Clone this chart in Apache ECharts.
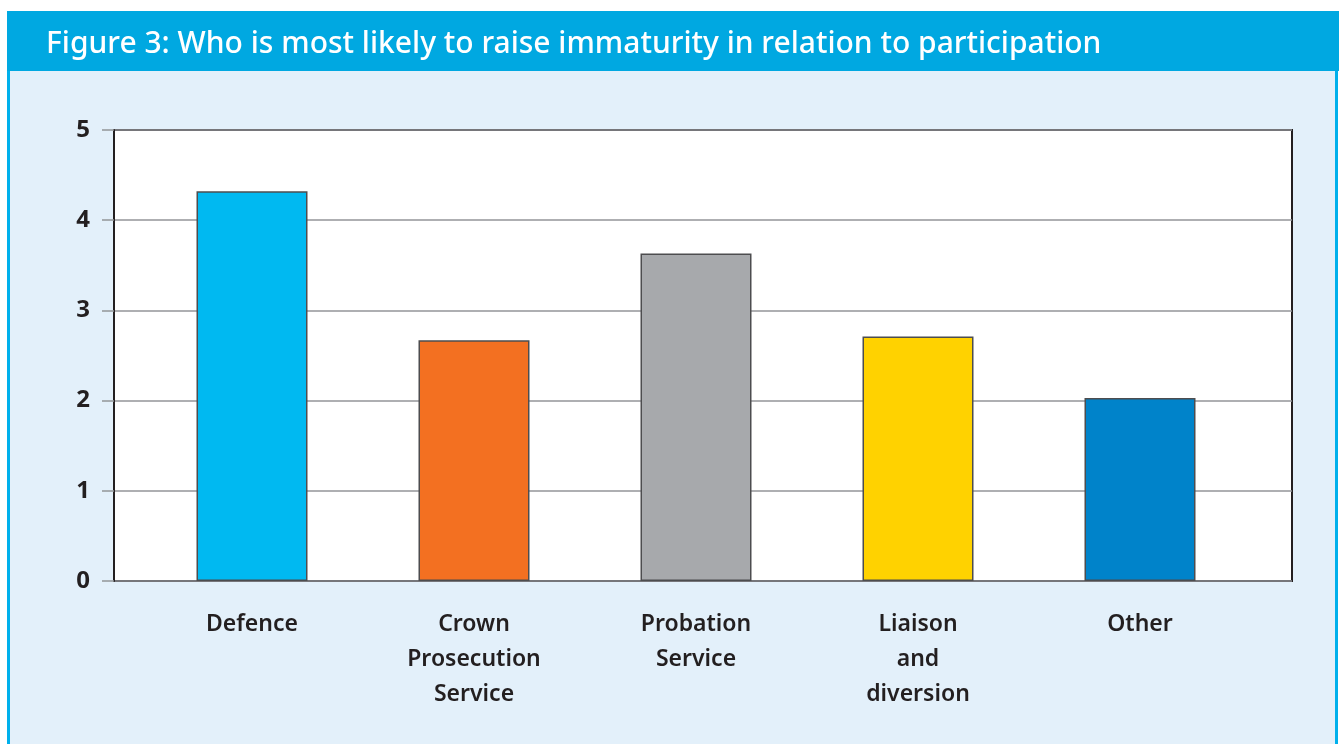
<!DOCTYPE html>
<html>
<head>
<meta charset="utf-8">
<script src="https://cdn.jsdelivr.net/npm/echarts@6/dist/echarts.min.js"></script>
<style>
html,body{margin:0;padding:0;background:#fff;}
#c{width:1339px;height:744px;}
</style>
</head>
<body>
<div id="c"></div>
<script>
const titleText = 'Figure 3: Who is most likely to raise immaturity in relation to participation';
const categories = ['Defence', 'Crown\nProsecution\nService', 'Probation\nService', 'Liaison\nand\ndiversion', 'Other'];
const values = [4.32, 2.67, 3.63, 2.71, 2.03];
const barColors = ['#00b9f1', '#f37021', '#a7a9ac', '#ffd200', '#0083ca'];
const yTicks = [0, 1, 2, 3, 4, 5];

const chart = echarts.init(document.getElementById('c'), null, {renderer: 'canvas'});
chart.setOption({
  backgroundColor: '#ffffff',
  animation: false,
  graphic: [
    {type: 'rect', z: -10, shape: {x: 7, y: 71, width: 1331, height: 680}, style: {fill: '#e3f0fa'}},
    {type: 'rect', z: -9, shape: {x: 7, y: 71, width: 3, height: 680}, style: {fill: '#00b0ec'}},
    {type: 'rect', z: -9, shape: {x: 1335, y: 71, width: 3, height: 680}, style: {fill: '#00b0ec'}},
    {type: 'rect', z: -9, shape: {x: 7, y: 11, width: 1332, height: 60}, style: {fill: '#00a8e1'}},
    {type: 'text', z: 10, left: 46, top: 29, style: {text: titleText, fill: '#ffffff', font: '500 30px "Noto Sans"'}}
  ],
  grid: [
    {left: 114, right: 47, top: 130, bottom: 163, show: true, backgroundColor: '#ffffff', borderColor: '#231f20', borderWidth: 2},
    {left: 141, right: 88, top: 130, bottom: 163, show: false}
  ],
  xAxis: [
    {gridIndex: 0, type: 'value', min: 0, max: 1, show: false},
    {
      gridIndex: 1,
      type: 'category',
      data: categories,
      axisLine: {show: false},
      axisTick: {show: false},
      axisLabel: {color: '#231f20', fontFamily: 'Noto Sans', fontWeight: 600, fontSize: 23, lineHeight: 35, margin: 26, interval: 0}
    }
  ],
  yAxis: [
    {
      gridIndex: 0,
      type: 'value',
      min: 0, max: 5, interval: 1,
      axisLine: {show: true, lineStyle: {color: '#231f20', width: 2}},
      axisTick: {show: true, length: 12, lineStyle: {color: '#939598', width: 1.5}},
      splitLine: {show: true, lineStyle: {color: '#939598', width: 1.5}},
      axisLabel: {color: '#231f20', fontFamily: 'Noto Sans', fontWeight: 700, fontSize: 24, margin: 24,
        formatter: v => yTicks.includes(v) ? String(v) : ''}
    },
    {gridIndex: 1, type: 'value', min: 0, max: 5, interval: 1, show: false, splitLine: {show: false}}
  ],
  series: [{
    type: 'bar',
    xAxisIndex: 1,
    yAxisIndex: 1,
    barWidth: '50%',
    z: 5,
    data: values.map((v, i) => ({value: v, itemStyle: {color: barColors[i]}})),
    itemStyle: {borderColor: '#4d4d4f', borderWidth: 1.5}
  }]
});
</script>
</body>
</html>
